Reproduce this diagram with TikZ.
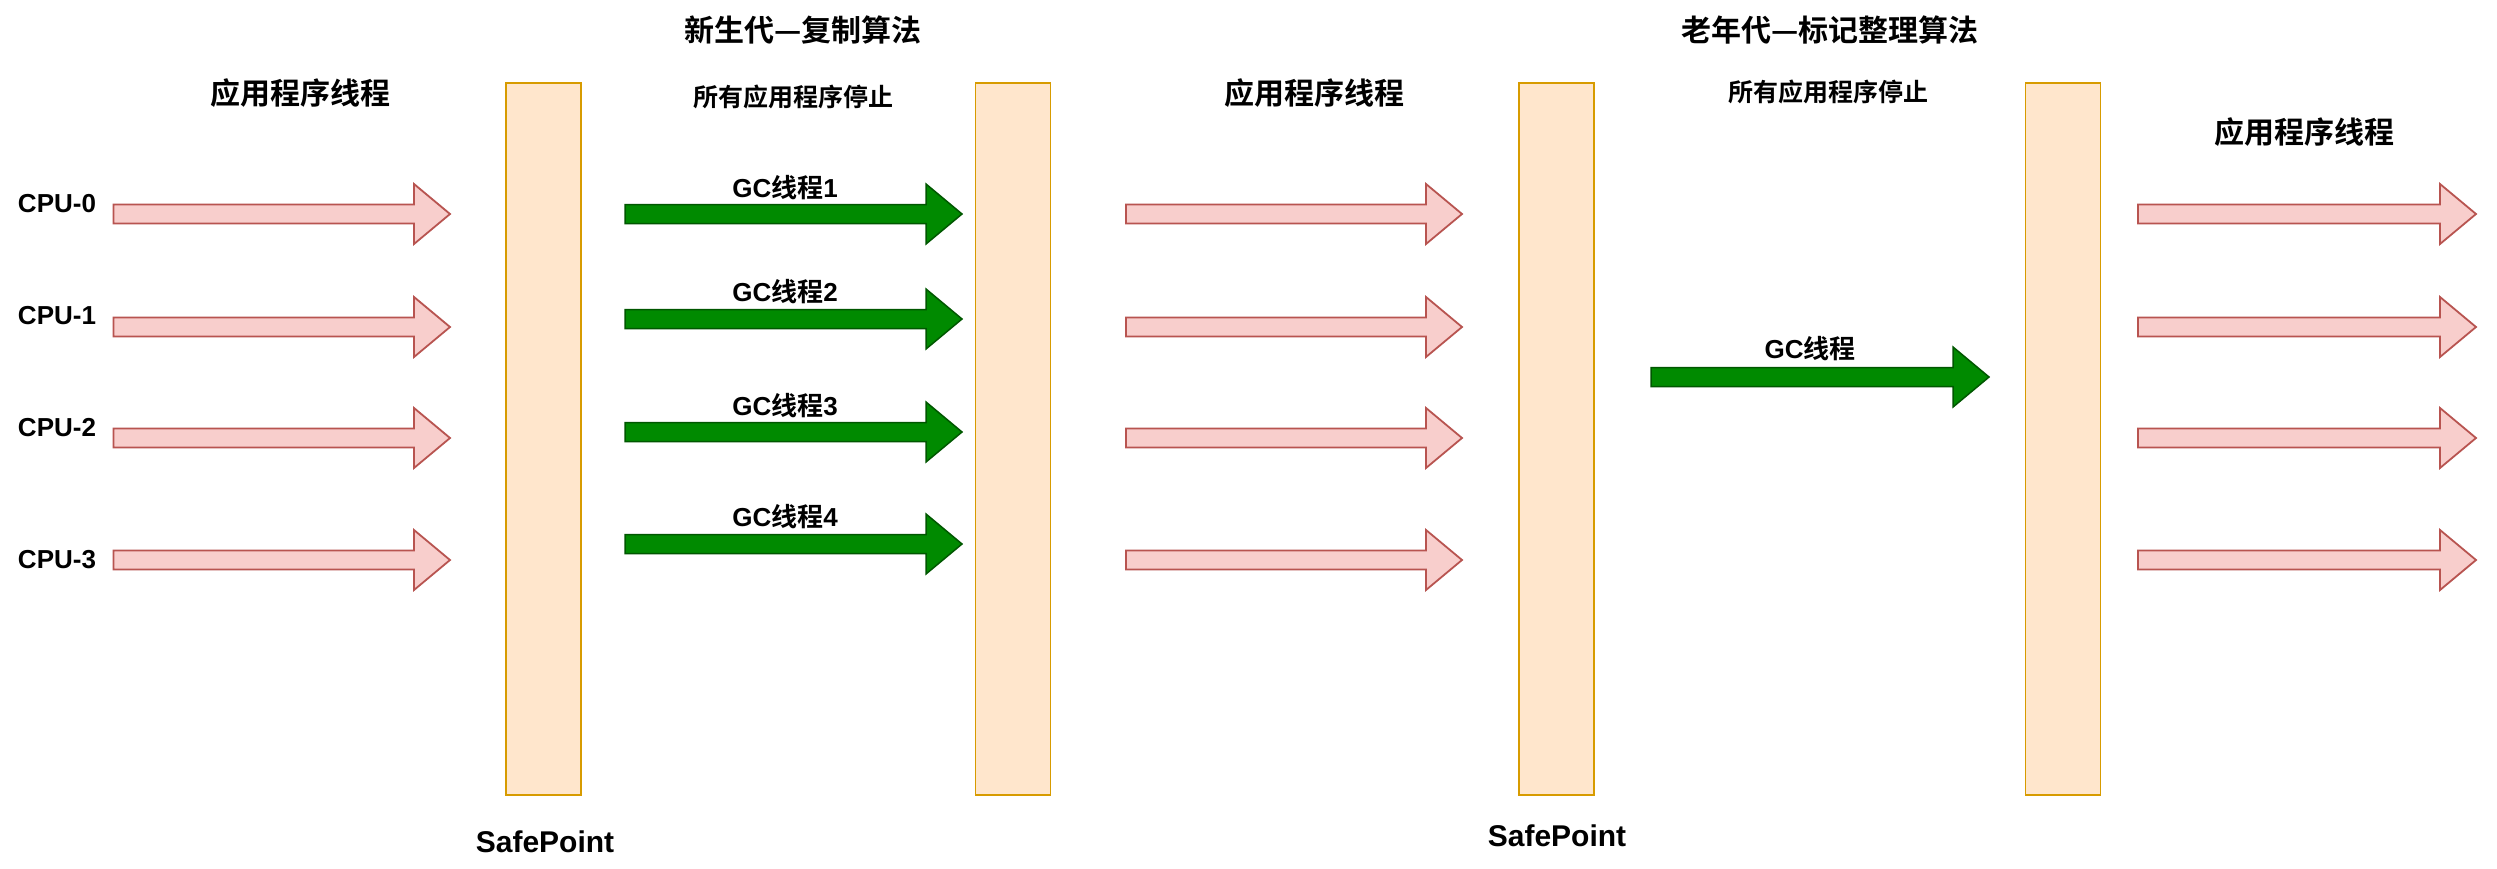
\documentclass[tikz,border=0pt]{standalone}
\usepackage{fontspec}
\setmainfont{Liberation Sans}
\newfontfamily\cjk{Noto Sans CJK SC}[BoldFont={Noto Sans CJK SC Bold}]
\newcommand\zh[1]{{\cjk\bfseries #1}}
\definecolor{pinkF}{HTML}{F8CECC}
\definecolor{pinkD}{HTML}{B85450}
\definecolor{barF}{HTML}{FFE6CC}
\definecolor{barD}{HTML}{D79B00}
\definecolor{grnF}{HTML}{008A00}
\definecolor{grnD}{HTML}{005700}
\newcommand\fatarrow[4]{%
  \draw[#1] (#2,#4-9.5) -- (#3-36,#4-9.5) -- (#3-36,#4-30) -- (#3,#4) -- (#3-36,#4+30) -- (#3-36,#4+9.5) -- (#2,#4+9.5) -- cycle;}
\tikzset{
  bar/.style={draw=barD, fill=barF, line width=1.8pt, minimum width=75pt, minimum height=712pt, inner sep=0pt},
  apparrow/.style={draw=pinkD, fill=pinkF, line width=1.8pt, line join=miter},
  gcarrow/.style={draw=grnD, fill=grnF, line width=1.5pt, line join=miter},
  big/.style={font=\fontsize{30}{34}\selectfont\bfseries, inner sep=0pt},
  mid/.style={font=\fontsize{25}{29}\selectfont\bfseries, inner sep=0pt},
  lab/.style={font=\fontsize{26}{30}\selectfont\bfseries, inner sep=0pt},
}
\begin{document}
\begin{tikzpicture}[x=1pt,y=-1pt]
\useasboundingbox[fill=white] (0,0) rectangle (2497,868);
% safepoint bars
\node[bar] (b1) at (543.5,439) {};
\node[bar] (b2) at (1013,439) {};
\node[bar] (b3) at (1556.5,439) {};
\node[bar] (b4) at (2063,439) {};
% titles
\node[big] (t1) at (803,30) {\zh{新生代—复制算法}};
\node[big] (t2) at (1830,30) {\zh{老年代—标记整理算法}};
\node[big] (a1) at (300,93) {\zh{应用程序线程}};
\node[big] (a2) at (1314,93) {\zh{应用程序线程}};
\node[big] (a3) at (2304,132) {\zh{应用程序线程}};
\node[mid] (s1) at (793,97) {\zh{所有应用程序停止}};
\node[mid] (s2) at (1828,92) {\zh{所有应用程序停止}};
\node[big] (sp1) at (545,842) {SafePoint};
\node[big] (sp2) at (1557,836) {SafePoint};
% CPU labels
\node[lab] (c0) at (57,204) {CPU-0};
\node[lab] (c1) at (57,316) {CPU-1};
\node[lab] (c2) at (57,428) {CPU-2};
\node[lab] (c3) at (57,560) {CPU-3};
% application thread arrows
\foreach \y in {214,327,438,560}{
  \fatarrow{apparrow}{113.5}{450}{\y}
  \fatarrow{apparrow}{1126}{1462}{\y}
  \fatarrow{apparrow}{2138}{2476}{\y}
}
% GC arrows
\foreach \y in {214,319,432,544}{
  \fatarrow{gcarrow}{625}{962}{\y}
}
\fatarrow{gcarrow}{1651}{1989}{377}
\node[lab] (g1) at (785,188) {GC\zh{线程}1};
\node[lab] (g2) at (785,292) {GC\zh{线程}2};
\node[lab] (g3) at (785,406) {GC\zh{线程}3};
\node[lab] (g4) at (785,517) {GC\zh{线程}4};
\node[lab] (g5) at (1810,349) {GC\zh{线程}};
\end{tikzpicture}
\end{document}
